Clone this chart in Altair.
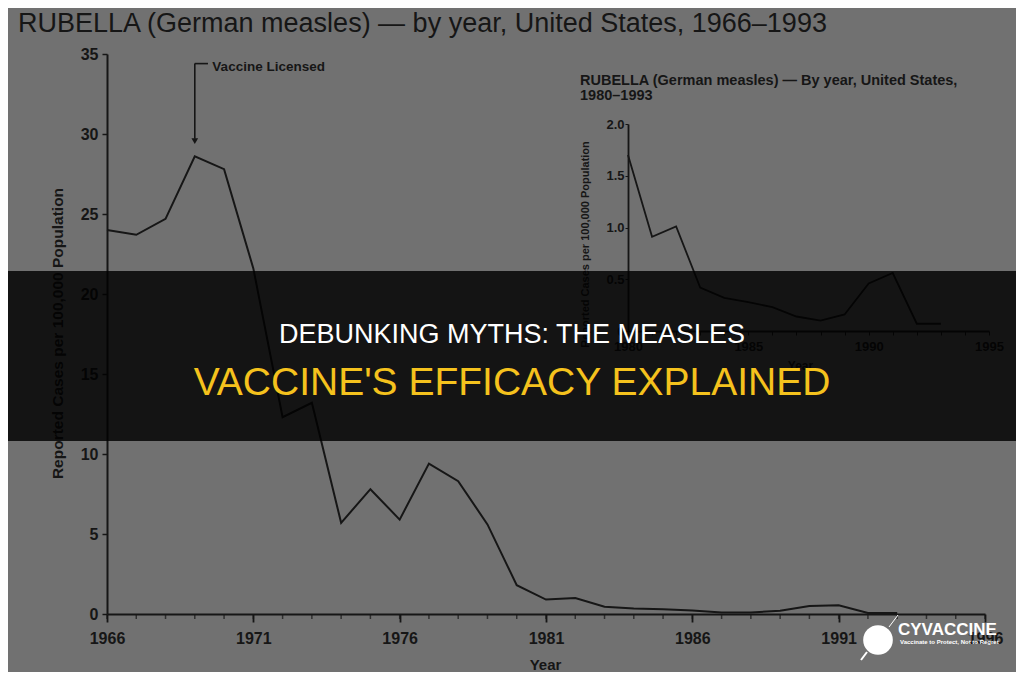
import altair as alt
import pandas as pd

# ---------------- data ----------------
years_main = list(range(1966, 1994))
rate_main = [24.0, 23.7, 24.7, 28.6, 27.8, 21.6, 12.3, 13.2, 5.7, 7.8,
             5.9, 9.4, 8.3, 5.6, 1.8, 0.9, 1.0, 0.45, 0.35, 0.3,
             0.22, 0.1, 0.1, 0.2, 0.5, 0.55, 0.07, 0.07]

years_inset = list(range(1980, 1994))
rate_inset = [1.70, 0.91, 1.01, 0.42, 0.32, 0.28, 0.23, 0.14, 0.10, 0.16,
              0.46, 0.56, 0.07, 0.07]

main_labels_x = [1966, 1971, 1976, 1981, 1986, 1991, 1996]
main_minor_x = list(range(1966, 1997))
main_ticks_y = [0, 5, 10, 15, 20, 25, 30, 35]
inset_ticks_x = list(range(1980, 1996))
inset_ticks_y = [0, 0.5, 1.0, 1.5, 2.0]

main_title = "RUBELLA (German measles) \u2014 by year, United States, 1966\u20131993"
inset_title_1 = "RUBELLA (German measles) \u2014 By year, United States,"
inset_title_2 = "1980\u20131993"
y_title = "Reported Cases per 100,000 Population"
x_title = "Year"
annotation = "Vaccine Licensed"
banner_1 = "DEBUNKING MYTHS: THE MEASLES"
banner_2 = "VACCINE'S EFFICACY EXPLAINED"
brand = "CYVACCINE"
tagline = "Vaccinate to Protect, Not to Regret"

main_df = pd.DataFrame({"year": years_main, "rate": rate_main})
inset_df = pd.DataFrame({"year": years_inset, "rate": rate_inset})
minor_df = pd.DataFrame({"year": main_minor_x})
one = pd.DataFrame({"k": [0]})

INK = "#161616"
FONT = "Liberation Sans"
BG = "#717171"

W, H = 878, 560

# ---------------- main chart ----------------
main_line = alt.Chart(main_df).mark_line(color=INK, strokeWidth=2).encode(
    x=alt.X("year:Q",
            scale=alt.Scale(domain=[1966, 1996], nice=False, zero=False),
            axis=alt.Axis(values=main_labels_x, format="d",
                          labelOverlap=False, labelFlush=False,
                          tickSize=8, labelPadding=8, labelFontSize=16,
                          labelFontWeight="bold", domainWidth=2, tickWidth=1.8,
                          title=x_title, titleX=438, titleY=50,
                          titleBaseline="middle", titleFontSize=15,
                          titleFontWeight="bold")),
    y=alt.Y("rate:Q",
            scale=alt.Scale(domain=[0, 35], nice=False, zero=True),
            axis=alt.Axis(values=main_ticks_y, tickSize=5, labelPadding=4,
                          labelFontSize=16, labelFontWeight="bold",
                          domainWidth=2, tickWidth=1.5,
                          title=y_title, titleX=-50, titleY=279,
                          titleBaseline="middle", titleFontSize=15.5,
                          titleFontWeight="bold")),
)

minor_ticks = alt.Chart(minor_df).mark_tick(
    color=INK, orient="vertical", size=4, thickness=1.5, yOffset=3
).encode(x=alt.X("year:Q"), y=alt.datum(0))

arrow_v = alt.Chart(one).mark_rule(color=INK, strokeWidth=1.6).encode(
    x=alt.datum(1969), y=alt.datum(34.4), y2=alt.datum(29.7))
arrow_h = alt.Chart(one).mark_rule(color=INK, strokeWidth=1.6).encode(
    x=alt.datum(1969), x2=alt.datum(1969.45), y=alt.datum(34.4))
arrow_head = alt.Chart(one).mark_point(shape="triangle-down", filled=True,
                                        size=45, color=INK, opacity=1).encode(
    x=alt.datum(1969), y=alt.datum(29.55))
annot = alt.Chart(one).mark_text(text=annotation, align="left",
                                  baseline="middle", font=FONT, fontSize=13.5,
                                  fontWeight="bold", color=INK).encode(
    x=alt.datum(1969.6), y=alt.datum(34.2))

main = alt.layer(main_line, minor_ticks, arrow_v, arrow_h, arrow_head, annot)

# ---------------- inset chart ----------------
inset = alt.Chart(inset_df).mark_line(color=INK, strokeWidth=1.8).encode(
    x=alt.X("year:Q",
            scale=alt.Scale(domain=[1980, 1995], range=[521, 882],
                            nice=False, zero=False),
            axis=alt.Axis(orient="bottom", offset=-283, values=inset_ticks_x,
                          format="d",
                          labelExpr="datum.value % 5 == 0 ? datum.label : ''",
                          labelOverlap=False, labelFlush=False,
                          tickSize=4, labelPadding=5, labelFontSize=13,
                          labelFontWeight="bold", domainWidth=1.8,
                          title=x_title, titleX=693, titleY=34,
                          titleBaseline="middle", titleFontSize=12,
                          titleFontWeight="bold")),
    y=alt.Y("rate:Q",
            scale=alt.Scale(domain=[0, 2], range=[277, 70], nice=False),
            axis=alt.Axis(orient="left", offset=-521, values=inset_ticks_y,
                          labelExpr="datum.value == 0 ? '0' : format(datum.value, '.1f')",
                          tickSize=3, labelPadding=1, labelFontSize=13,
                          labelFontWeight="bold", domainWidth=1.8,
                          title=y_title, titleX=-43, titleY=190,
                          titleBaseline="middle", titleFontSize=11,
                          titleFontWeight="bold")),
)


def txt(s, x, y, size, color=INK, weight="bold", align="left", font=FONT):
    return alt.Chart(one).mark_text(text=s, align=align, baseline="alphabetic",
                                    font=font, fontSize=size, fontWeight=weight,
                                    color=color).encode(x=alt.value(x), y=alt.value(y))


title_main = txt(main_title, -89, -22, 27, weight="normal")
inset_t1 = txt(inset_title_1, 473, 31, 14.5)
inset_t2 = txt(inset_title_2, 473, 46, 14.5)

banner = alt.Chart(one).mark_rect(color="#000000", opacity=0.82).encode(
    x=alt.value(-99), x2=alt.value(909), y=alt.value(217), y2=alt.value(387))
banner_t1 = txt(banner_1, 405, 289, 27, color="#ffffff", weight="normal", align="center")
banner_t2 = txt(banner_2, 405, 341, 39, color="#f5c21d", weight="normal", align="center")

logo_circle = alt.Chart(one).mark_point(shape="circle", filled=True, size=880,
                                         color="#ffffff", opacity=1).encode(
    x=alt.value(771), y=alt.value(586))
logo_needle = alt.Chart(one).mark_rule(color="#ffffff", strokeWidth=1).encode(
    x=alt.value(782), x2=alt.value(791), y=alt.value(573), y2=alt.value(561))
logo_pin = alt.Chart(one).mark_rule(color="#ffffff", strokeWidth=2).encode(
    x=alt.value(760), x2=alt.value(754), y=alt.value(598), y2=alt.value(606))
logo_t1 = txt(brand, 791, 581, 17, color="#ffffff")
logo_t2 = txt(tagline, 793, 590, 6, color="#ffffff")

chart = alt.layer(
    main, inset, title_main, inset_t1, inset_t2,
    banner, banner_t1, banner_t2,
    logo_circle, logo_needle, logo_pin, logo_t1, logo_t2,
).resolve_scale(x="independent", y="independent").resolve_axis(
    x="independent", y="independent"
).properties(
    width=W, height=H, autosize="none",
    padding={"left": 99, "top": 46, "right": 31, "bottom": 58},
    background=BG,
).configure_view(stroke=None).configure_axis(
    grid=False, domainColor=INK, tickColor=INK, labelColor=INK, titleColor=INK,
    labelFont=FONT, titleFont=FONT, labelOverlap=False,
)

chart.save("out.html", embed_options={"renderer": "svg", "actions": False})
